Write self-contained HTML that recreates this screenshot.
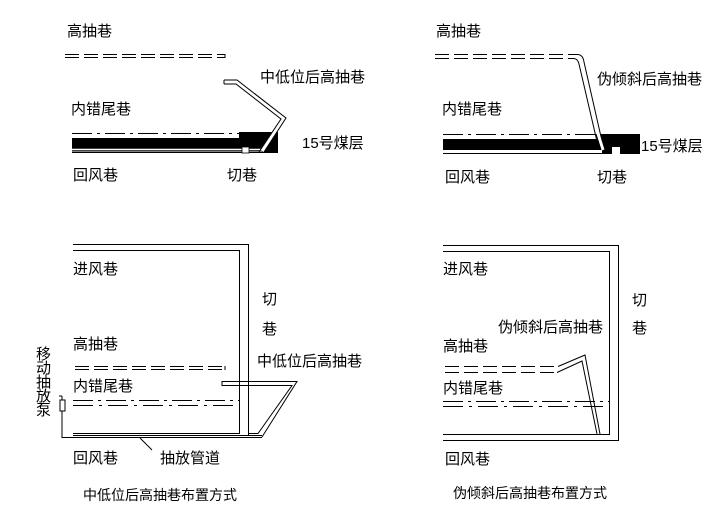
<!DOCTYPE html>
<html><head><meta charset="utf-8"><style>
html,body{margin:0;padding:0;background:#fff;}
svg{display:block;}
text{font-family:"Liberation Sans","Noto Sans CJK SC",sans-serif;font-size:15px;fill:#000;}
text.t{font-size:14px;}
</style></head><body>
<svg width="724" height="527" viewBox="0 0 724 527" xmlns="http://www.w3.org/2000/svg">
<g stroke="#000" stroke-width="1" fill="none">
<line x1="65" y1="54.5" x2="225" y2="54.5" stroke-dasharray="14,5"/>
<line x1="65" y1="57.5" x2="225" y2="57.5" stroke-dasharray="14,5"/>
<line x1="225" y1="54" x2="225" y2="58"/>
<line x1="72" y1="133.5" x2="240" y2="133.5" stroke-dasharray="20,5,3,5"/>
</g>
<rect x="72" y="138" width="206" height="15" fill="#000"/>
<rect x="239" y="132" width="39" height="6" fill="#000"/>
<line x1="72" y1="149.5" x2="262" y2="149.5" stroke="#fff" stroke-width="1.5"/>
<rect x="72" y="151.5" width="190" height="2" fill="#fff"/>
<line x1="72" y1="152.5" x2="262" y2="152.5" stroke="#000"/>
<rect x="242" y="147" width="7" height="6" fill="#fff" stroke="#000" stroke-width="0.8"/>
<polyline points="224,82 237,82 284,118 262,151" fill="none" stroke="#fff" stroke-width="4"/>
<polyline points="224,80 237,80 286,118 264,152" fill="none" stroke="#000" stroke-width="1"/>
<polyline points="224,84 236,84 281,119 259,152" fill="none" stroke="#000" stroke-width="1"/>
<line x1="224" y1="80" x2="224" y2="84" stroke="#000"/>
<text x="67" y="36">高抽巷</text>
<text x="260" y="82">中低位后高抽巷</text>
<text x="71" y="114">内错尾巷</text>
<text x="302" y="148">15号煤层</text>
<text x="73" y="180">回风巷</text>
<text x="227" y="180">切巷</text>

<g stroke="#000" stroke-width="1" fill="none">
<path d="M435 54.5 H578" stroke-dasharray="14,5"/>
<path d="M435 58.5 H574" stroke-dasharray="14,5"/>
<path d="M578 54.5 Q583 55 584 62 L604 150"/>
<path d="M574 58.5 Q578 59 579 64 L599 150"/>
<line x1="443" y1="134.5" x2="603" y2="134.5" stroke-dasharray="20,5,3,5"/>
</g>
<rect x="443" y="139" width="197" height="11" fill="#000"/>
<rect x="602" y="134" width="38" height="20" fill="#000"/>
<line x1="443" y1="153.5" x2="612" y2="153.5" stroke="#000"/>
<rect x="612" y="147" width="8" height="7" fill="#fff"/>
<polyline points="598,134 603,150" stroke="#fff" stroke-width="3"/>
<line x1="596" y1="134" x2="601" y2="150" stroke="#000"/>
<line x1="601" y1="134" x2="606" y2="150" stroke="#000"/>
<text x="436" y="36">高抽巷</text>
<text x="597" y="84">伪倾斜后高抽巷</text>
<text x="442" y="114">内错尾巷</text>
<text x="641" y="151">15号煤层</text>
<text x="445" y="182">回风巷</text>
<text x="597" y="182">切巷</text>

<g stroke="#000" stroke-width="1" fill="none">
<polyline points="73,244.5 248.5,244.5 248.5,436"/>
<polyline points="73,250.5 239.5,250.5 239.5,433.5 73,433.5"/>
<line x1="75" y1="366.5" x2="225" y2="366.5" stroke-dasharray="14,5"/>
<line x1="75" y1="369.5" x2="225" y2="369.5" stroke-dasharray="14,5"/>
<line x1="225" y1="366" x2="225" y2="370"/>
<line x1="73" y1="400.5" x2="239" y2="400.5" stroke-dasharray="20,5,3,5"/>
<line x1="73" y1="405.5" x2="239" y2="405.5" stroke-dasharray="20,6,3,6"/>
<polyline points="62,411 62,437.5 262,437.5"/>
<line x1="73" y1="435.5" x2="262" y2="435.5"/>
<polyline points="222,381.5 297,381.5 262,437"/>
<polyline points="222,385.5 292,385.5 258,433.5 248,433.5"/>
<line x1="222" y1="381" x2="222" y2="386"/>
<rect x="60" y="400" width="5" height="11" fill="#fff"/>
<line x1="62" y1="396" x2="62" y2="400"/>
<line x1="59" y1="396" x2="62" y2="396"/>
<line x1="140" y1="438" x2="152" y2="450"/>
</g>
<text x="73" y="274">进风巷</text>
<text x="73" y="349">高抽巷</text>
<text x="73" y="391">内错尾巷</text>
<text x="262" y="304">切</text>
<text x="262" y="334">巷</text>
<text x="257" y="366">中低位后高抽巷</text>
<text x="36" y="359">移</text>
<text x="36" y="373">动</text>
<text x="36" y="387">抽</text>
<text x="36" y="401">放</text>
<text x="36" y="415">泵</text>
<text x="73" y="463">回风巷</text>
<text x="160" y="463">抽放管道</text>
<text class="t" x="83" y="500">中低位后高抽巷布置方式</text>

<g stroke="#000" stroke-width="1" fill="none">
<polyline points="443,245.5 618.5,245.5 618.5,440.5 443,440.5"/>
<polyline points="443,251.5 609.5,251.5 609.5,434.5 443,434.5"/>
<path d="M445 366.5 H558" stroke-dasharray="14,5"/>
<path d="M445 372.5 H557" stroke-dasharray="14,5"/>
<path d="M558 366.5 L585 355 L600 434"/>
<path d="M557 372.5 L582 361 L597 434"/>
<line x1="443" y1="401.5" x2="609" y2="401.5" stroke-dasharray="20,5,3,5"/>
<line x1="443" y1="406.5" x2="609" y2="406.5" stroke-dasharray="20,6,3,6"/>
</g>
<text x="443" y="274">进风巷</text>
<text x="498" y="332">伪倾斜后高抽巷</text>
<text x="443" y="351">高抽巷</text>
<text x="443" y="393">内错尾巷</text>
<text x="632" y="305">切</text>
<text x="632" y="333">巷</text>
<text x="445" y="464">回风巷</text>
<text class="t" x="453" y="498">伪倾斜后高抽巷布置方式</text>
</svg>
</body></html>
